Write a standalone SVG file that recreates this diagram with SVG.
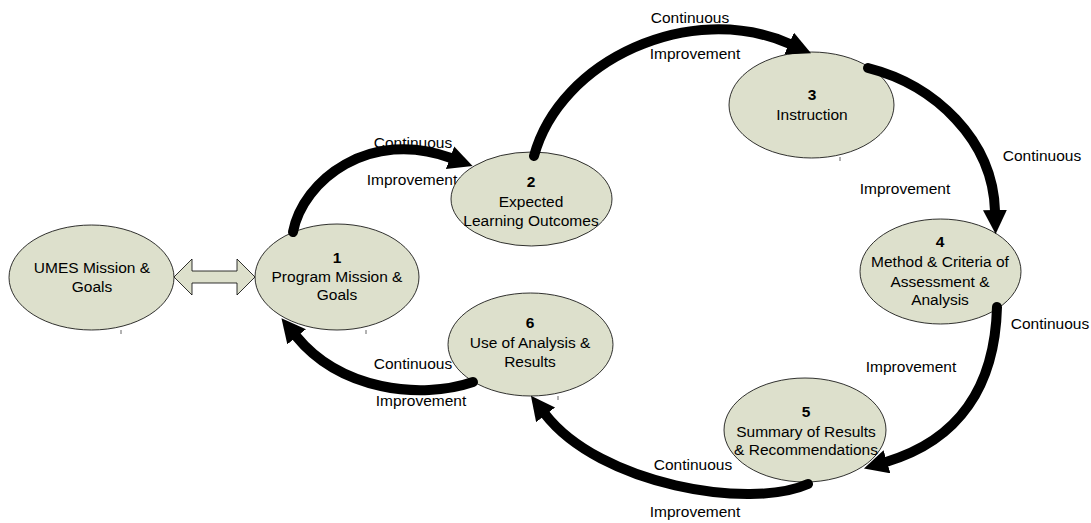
<svg xmlns="http://www.w3.org/2000/svg" width="1091" height="523" viewBox="0 0 1091 523">
<style>
.node{fill:#dde0cc;stroke:#000;stroke-width:0.8}
.t{font-family:"Liberation Sans",Arial,sans-serif;font-size:15.5px;fill:#000;text-anchor:middle}
.b{font-weight:bold}
.conn{fill:none;stroke:#000;stroke-width:10;stroke-linecap:round}
.tick{stroke:#666;stroke-width:1}
</style>
<defs>
<marker id="head" markerUnits="userSpaceOnUse" markerWidth="26" markerHeight="26" refX="1" refY="12" orient="auto">
<path d="M0,0 L24,12 L0,24 z" fill="#000"/>
</marker>
</defs>
<rect width="1091" height="523" fill="#fff"/>
<g id="labels">
<text class="t" x="413" y="148">Continuous</text>
<text class="t" x="412" y="185">Improvement</text>
<text class="t" x="690" y="23">Continuous</text>
<text class="t" x="695" y="59">Improvement</text>
<text class="t" x="1042" y="161">Continuous</text>
<text class="t" x="905" y="194">Improvement</text>
<text class="t" x="1050" y="329">Continuous</text>
<text class="t" x="911" y="372">Improvement</text>
<text class="t" x="413" y="369">Continuous</text>
<text class="t" x="421" y="406">Improvement</text>
<text class="t" x="693" y="470">Continuous</text>
<text class="t" x="695" y="517">Improvement</text>
</g>
<g id="ticks">
<line class="tick" x1="121" y1="330" x2="121" y2="334"/>
<line class="tick" x1="366" y1="330" x2="366" y2="334"/>
<line class="tick" x1="840" y1="157" x2="840" y2="161"/>
<line class="tick" x1="558" y1="396" x2="558" y2="400"/>
</g>
<g id="umes">
<ellipse class="node" cx="91.5" cy="277.5" rx="82.5" ry="52.5"/>
<text class="t" x="92" y="273">UMES Mission &amp;</text>
<text class="t" x="92" y="292">Goals</text>
</g>
<g id="n1">
<ellipse class="node" cx="337" cy="277" rx="82" ry="53"/>
<text class="t b" x="337" y="263">1</text>
<text class="t" x="337" y="282">Program Mission &amp;</text>
<text class="t" x="337" y="300">Goals</text>
</g>
<g id="n2">
<ellipse class="node" cx="531.5" cy="199" rx="80.5" ry="47"/>
<text class="t b" x="531" y="187">2</text>
<text class="t" x="531" y="207">Expected</text>
<text class="t" x="531" y="226">Learning Outcomes</text>
</g>
<g id="n3">
<ellipse class="node" cx="811.5" cy="105" rx="82.5" ry="53"/>
<text class="t b" x="812" y="100">3</text>
<text class="t" x="812" y="120">Instruction</text>
</g>
<g id="n4">
<ellipse class="node" cx="940.5" cy="271.5" rx="80.5" ry="52.5"/>
<text class="t b" x="940" y="247">4</text>
<text class="t" x="940" y="267">Method &amp; Criteria of</text>
<text class="t" x="940" y="287">Assessment &amp;</text>
<text class="t" x="940" y="305">Analysis</text>
</g>
<g id="n5">
<ellipse class="node" cx="805" cy="430" rx="81" ry="52"/>
<text class="t b" x="806" y="417">5</text>
<text class="t" x="806" y="437">Summary of Results</text>
<text class="t" x="806" y="455">&amp; Recommendations</text>
</g>
<g id="n6">
<ellipse class="node" cx="530.5" cy="344.5" rx="82.5" ry="51.5"/>
<text class="t b" x="530" y="328">6</text>
<text class="t" x="530" y="348">Use of Analysis &amp;</text>
<text class="t" x="530" y="367">Results</text>
</g>
<g id="connectors">
<path class="conn" d="M293,232 C303,180 370,128 451,158" marker-end="url(#head)"/>
<path class="conn" d="M534,156 C560,60 690,0 790,44" marker-end="url(#head)"/>
<path class="conn" d="M868,68 C935,85 993,140 995,211" marker-end="url(#head)"/>
<path class="conn" d="M997,307 C995,385 960,440 886,462" marker-end="url(#head)"/>
<path class="conn" d="M808,484 C750,510 600,485 545,414" marker-end="url(#head)"/>
<path class="conn" d="M473,382 C420,400 340,390 296,336" marker-end="url(#head)"/>
<polygon id="link-umes-1" class="node" points="174,277 192,259 192,271 237,271 237,259 255,277 237,295 237,283 192,283 192,295"/>
</g>
</svg>
